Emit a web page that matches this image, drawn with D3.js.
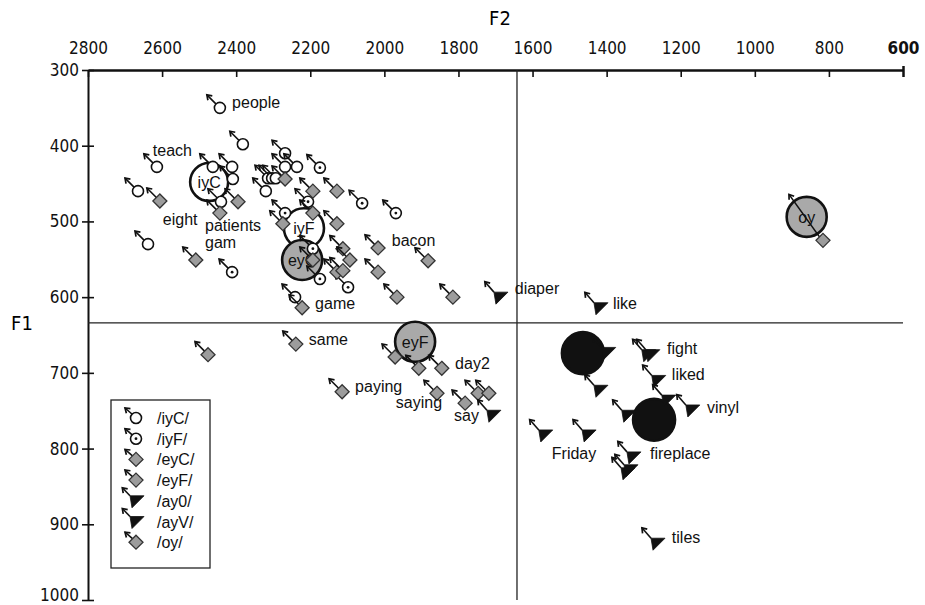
<!DOCTYPE html>
<html><head><meta charset="utf-8">
<script src="https://cdn.jsdelivr.net/npm/d3@7/dist/d3.min.js"></script>
<style>body{margin:0;background:#fff}svg{display:block}</style>
</head><body>
<svg id="c" width="925" height="605"></svg>
<script>
// ---- data (F2, F1 in Hz) ----
const xTicks = [2800,2600,2400,2200,2000,1800,1600,1400,1200,1000,800,600];
const yTicks = [300,400,500,600,700,800,900,1000];
const grandMeanF2 = 1642, grandMeanF1 = 634;

const iyC = [[2444,350],[2382,398],[2614,428],[2665,460],[2638,530],[2463,428],[2411,428],[2409,444],[2441,474],[2320,460],[2268,410],[2268,428],[2236,428],[2314,443],[2303,443],[2293,443],[2241,600]];
const iyF = [[2174,429],[2060,476],[1969,489],[2268,489],[2206,474],[2193,536],[2174,576],[2098,587],[2411,567]];
const eyC = [[2606,473],[2444,489],[2395,474],[2268,444],[2193,460],[2128,460],[2274,503],[2193,489],[2128,503],[2112,536],[2093,551],[2128,567],[2112,565],[2017,535],[2017,567],[1882,552],[1966,600],[1815,600],[2222,614],[2509,551],[2193,551]];
const eyF = [[2476,676],[2239,662],[1971,679],[1907,694],[1845,694],[2114,725],[1858,727],[1782,740],[1747,727],[1718,727]];
const ay0 = [[1688,600],[1418,614],[1397,673],[1289,676],[1278,676],[1262,710],[1418,723],[1707,756]];
const ayV = [[1343,756],[1235,736],[1170,749],[1567,782],[1450,782],[1329,811],[1345,832],[1337,828],[1264,925]];
const oy  = [[816,525]];

const meanNames = ["iyC","iyF","eyC","eyF","oy","ay0","ayV"];
const meanF2 = [2473,2217,2222,1917,860,1464,1272];
const meanF1 = [448,509,551,659,494,674,762];

const labelWords = ["people","teach","eight","patients","gam","bacon","game","diaper","like","same","day2","paying","saying","say","fight","liked","vinyl","Friday","fireplace","tiles"];
const labelF2 = [2411,2625,2598,2484,2484,1980,2187,1648,1383,2204,1809,2079,1969,1812,1237,1224,1129,1548,1283,1224];
const labelF1 = [350,414,505,513,535,532,616,596,616,663,695,725,746,764,675,710,753,814,814,925];

const legendNames = ["/iyC/","/iyF/","/eyC/","/eyF/","/ay0/","/ayV/","/oy/"];

// ---- drawing ----
const svg = d3.select("#c");
const x = d3.scaleLinear().domain([2800,600]).range([88,903]);
const y = d3.scaleLinear().domain([300,1000]).range([70,600]);
const narrow = "'Liberation Sans Narrow','DejaVu Sans Condensed','Arial Narrow',sans-serif";
const sans = "'Liberation Sans',Arial,Helvetica,sans-serif";

// axes
const gx = svg.append("g").attr("transform","translate(0,70)")
  .call(d3.axisTop(x).tickValues(xTicks).tickSizeInner(-7).tickSizeOuter(0).tickPadding(16).tickFormat(d3.format("d")));
gx.select(".domain").attr("stroke","#111").attr("stroke-width",2.5);
gx.selectAll(".tick line").attr("stroke","#111").attr("stroke-width",1.6);
gx.selectAll(".tick text").attr("font-family",narrow).attr("font-size",17).attr("fill","#111");
gx.selectAll(".tick").filter(d=>d===600).select("text").attr("font-weight","bold");
gx.selectAll(".tick").filter(d=>d===600).select("line").attr("y1",-4).attr("stroke-width",2.5);

const gy = svg.append("g").attr("transform","translate(88,0)")
  .call(d3.axisLeft(y).tickValues(yTicks).tickSizeInner(6).tickSizeOuter(0).tickPadding(3).tickFormat(d3.format("d")));
gy.select(".domain").attr("stroke","#111").attr("stroke-width",2);
gy.selectAll(".tick line").attr("x1",6).attr("stroke","#111").attr("stroke-width",1.6);
gy.selectAll(".tick text").attr("font-family",narrow).attr("font-size",17).attr("fill","#111");
gy.selectAll(".tick").filter(d=>d===1000).select("text").attr("dy","0.05em");

svg.append("text").attr("x",500).attr("y",25).attr("text-anchor","middle")
  .attr("font-family",narrow).attr("font-size",20).text("F2");
svg.append("text").attr("x",22).attr("y",330).attr("text-anchor","middle")
  .attr("font-family",narrow).attr("font-size",20).text("F1");

// crosshair (grand means)
svg.append("line").attr("x1",x(grandMeanF2)).attr("x2",x(grandMeanF2)).attr("y1",y(300)).attr("y2",y(1000))
  .attr("stroke","#222").attr("stroke-width",1.3);
svg.append("line").attr("x1",x(2800)).attr("x2",x(600)).attr("y1",y(grandMeanF1)).attr("y2",y(grandMeanF1))
  .attr("stroke","#222").attr("stroke-width",1.3);

// mean circles
const meanFill = {iyC:"#fff",iyF:"#fff",eyC:"#a9a9a9",eyF:"#a9a9a9",oy:"#a9a9a9",ay0:"#111",ayV:"#111"};
const meanR = {iyC:19,iyF:20,eyC:20,eyF:20,oy:20,ay0:21,ayV:21};
const gm = svg.append("g");
meanNames.forEach((n,i)=>{
  const g = gm.append("g").attr("transform",`translate(${x(meanF2[i])},${y(meanF1[i])})`);
  g.append("circle").attr("r",meanR[n]).attr("fill",meanFill[n]).attr("stroke","#111").attr("stroke-width",2.6);
  if (meanFill[n] !== "#111")
    g.append("text").attr("text-anchor","middle").attr("y",6).attr("font-family",sans)
      .attr("font-size",16).attr("fill","#111").text(n);
});

// markers
function drawArrow(g, sx, sy, tx, ty){
  g.append("line").attr("x1",sx).attr("y1",sy).attr("x2",tx).attr("y2",ty)
    .attr("stroke","#111").attr("stroke-width",1.6);
  const a = Math.atan2(sy-ty, sx-tx), h = 5.5;
  const p1 = [tx+h*Math.cos(a+0.6), ty+h*Math.sin(a+0.6)];
  const p2 = [tx+h*Math.cos(a-0.6), ty+h*Math.sin(a-0.6)];
  g.append("path").attr("d",`M${p1}L${tx},${ty}L${p2}`).attr("fill","none")
    .attr("stroke","#111").attr("stroke-width",1.7);
}
function drawMarker(g, type, glide){
  const gl = glide || [-13,-13];
  if (type==="tri"){
    drawArrow(g,-6,-5,-6+gl[0]*0.7,-5+gl[1]*0.8);
    g.append("path").attr("d","M-6,-5L8,-5L-4,7Z").attr("fill","#111").attr("stroke","#111").attr("stroke-width",0.8);
    return;
  }
  drawArrow(g,-3.5,-3.5,gl[0],gl[1]);
  if (type==="diamond"){
    g.append("path").attr("d","M0,-7L7,0L0,7L-7,0Z").attr("fill","#9c9c9c").attr("stroke","#333").attr("stroke-width",1.3);
  } else {
    g.append("circle").attr("r",5.5).attr("fill","#fff").attr("stroke","#111").attr("stroke-width",1.6);
    if (type==="dot") g.append("circle").attr("r",1.4).attr("fill","#111");
  }
}
const series = [
  {data:iyC,type:"open"},{data:iyF,type:"dot"},{data:eyC,type:"diamond"},{data:eyF,type:"diamond"},
  {data:ay0,type:"tri"},{data:ayV,type:"tri"},{data:oy,type:"diamond",glide:[-34,-46]}
];
const gp = svg.append("g");
series.forEach(s=>{
  gp.selectAll(null).data(s.data).enter().append("g")
    .attr("transform",d=>`translate(${x(d[0])},${y(d[1])})`)
    .each(function(){ drawMarker(d3.select(this), s.type, s.glide); });
});

// word labels
svg.append("g").selectAll("text").data(labelWords).enter().append("text")
  .attr("x",(d,i)=>x(labelF2[i])).attr("y",(d,i)=>y(labelF1[i]))
  .attr("font-family",sans).attr("font-size",16).attr("fill","#111").text(d=>d);

// legend
const lg = svg.append("g");
lg.append("rect").attr("x",111).attr("y",400).attr("width",99).attr("height",168)
  .attr("fill","#fff").attr("stroke","#222").attr("stroke-width",1.3);
const legTypes = ["open","dot","diamond","diamond","tri","tri","diamond"];
legendNames.forEach((n,i)=>{
  const cy = 418 + i*20.7;
  const g = lg.append("g").attr("transform",`translate(136,${cy})`);
  drawMarker(g, legTypes[i], [-11,-10]);
  lg.append("text").attr("x",157).attr("y",cy+6).attr("font-family",sans).attr("font-size",16)
    .attr("fill","#111").text(n);
});
</script>
</body></html>
